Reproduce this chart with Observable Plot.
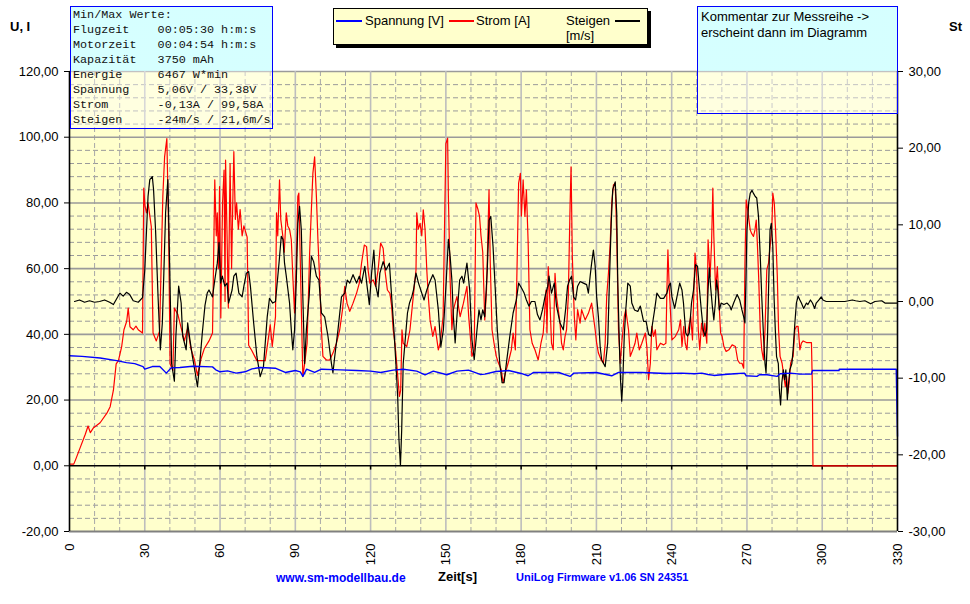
<!DOCTYPE html>
<html><head><meta charset="utf-8">
<script src="https://cdn.jsdelivr.net/npm/d3@7"></script>
<script src="https://cdn.jsdelivr.net/npm/@observablehq/plot@0.6"></script>
<style>
body{margin:0;background:#fff;font-family:"Liberation Sans",Arial,sans-serif;}
#wrap{position:relative;width:970px;height:604px;overflow:hidden;}
#chart{position:absolute;left:0;top:0;}
.abs{position:absolute;white-space:pre;}
#info{left:70px;top:6px;width:203px;height:123px;box-sizing:border-box;border:1px solid #0000ff;background:linear-gradient(to bottom, rgba(200,255,255,0.75) 0px, rgba(200,255,255,0.75) 64px, rgba(255,255,255,0.4) 64px);padding:1px 0 0 2px;font-family:"Liberation Mono","Courier New",monospace;font-size:11.75px;line-height:15px;color:#111;}
#comment{left:697px;top:6px;width:201px;height:108px;box-sizing:border-box;border:1px solid #0000ff;background:linear-gradient(to bottom, rgba(200,255,255,0.75) 0px, rgba(200,255,255,0.75) 64px, rgba(255,255,255,0.4) 64px);padding:1.5px 0 0 3px;font-size:13px;line-height:16px;color:#000;}
#legend{left:333px;top:8px;width:315px;height:37px;box-sizing:border-box;border:1px solid #000;background:#ffffcc;box-shadow:3px 3px 0 #000;font-size:13px;line-height:13px;}
#legend .t{position:absolute;white-space:pre;}
#legend .l{position:absolute;height:1.5px;}
</style></head><body>
<div id="wrap">
<div id="chart"></div>
<div id="info" class="abs"></div>
<div id="legend" class="abs">
  <div class="l" style="left:2px;top:11px;width:26px;background:#0000ff"></div>
  <div class="t" style="left:31px;top:5px">Spannung [V]</div>
  <div class="l" style="left:115px;top:11px;width:25px;background:#ff0000"></div>
  <div class="t" style="left:142px;top:5px">Strom [A]</div>
  <div class="t" style="left:232px;top:5px">Steigen</div>
  <div class="l" style="left:281px;top:11px;width:25px;background:#000"></div>
  <div class="t" style="left:232px;top:20px">[m/s]</div>
</div>
<div id="comment" class="abs">Kommentar zur Messreihe -&gt;
erscheint dann im Diagramm</div>
<div class="abs" style="left:10px;top:20px;font-size:13px;line-height:13px;font-weight:bold;">U, I</div>
<div class="abs" style="left:949px;top:20px;font-size:13px;line-height:13px;font-weight:bold;">St</div>
<div class="abs" style="left:276px;top:572px;font-size:12px;line-height:12px;font-weight:bold;color:#0000ff;">www.sm-modellbau.de</div>
<div class="abs" style="left:438px;top:570px;font-size:13px;line-height:13px;font-weight:bold;color:#000;">Zeit[s]</div>
<div class="abs" style="left:516px;top:572px;font-size:11px;line-height:11px;font-weight:bold;color:#0000ff;">UniLog Firmware v1.06 SN 24351</div>
</div>
<script>
// ---- data ----
const infoLines = [
  "Min/Max Werte:",
  "Flugzeit    00:05:30 h:m:s",
  "Motorzeit   00:04:54 h:m:s",
  "Kapazität   3750 mAh",
  "Energie     6467 W*min",
  "Spannung    5,06V / 33,38V",
  "Strom       -0,13A / 99,58A",
  "Steigen     -24m/s / 21,6m/s"
];
const xTicks = [0,30,60,90,120,150,180,210,240,270,300,330];
const yTicksLeft = [-20,0,20,40,60,80,100,120];
const yTicksRight = [-30,-20,-10,0,10,20,30];

// Spannung [V] : [t (s), V]
const spannung = [[0,33.5],[5,33.3],[12.2,32.8],[18.8,32.0],[22.7,31.4],[26,31.1],[29.3,30.2],[30,29.4],[33,30.2],[36,30.2],[38.6,28.2],[40.5,29.8],[44,29.9],[49.1,30.3],[57,30.1],[58.3,29.2],[60,28.6],[63,28.9],[66.4,28.2],[70,28.6],[72.7,29.5],[76,29.9],[82,29.7],[86,28.4],[90,29.0],[92,28.6],[93,27.2],[94.5,29.4],[97.7,28.4],[100.4,29.4],[108,29.2],[114.5,29.0],[120,28.8],[124,28.4],[129,29.1],[133,29.4],[138.4,28.8],[141.7,27.7],[145,28.8],[150.4,27.7],[154.4,28.8],[159,29.1],[163.7,27.8],[165.5,27.9],[170,28.7],[175,29.0],[180,28.1],[182.8,27.4],[185,28.4],[195,28.4],[199.5,27.2],[201,28.2],[210,28.4],[216.1,27.4],[218.8,28.4],[228,28.4],[238,28.1],[244,28.2],[249,28.0],[252,28.2],[254.5,27.8],[256.8,27.5],[261,27.8],[265,28.0],[269,28.2],[269.7,27.4],[274,27.2],[275,27.7],[278,27.7],[282,27.2],[283.2,28.0],[287.4,28.2],[291,27.9],[295.7,27.9],[296.1,29.0],[306.7,29.0],[306.8,29.4],[329.5,29.4],[330,9]];

// Strom [A] : [t (s), A]
const strom = [[0,0.5],[1.7,0.5],[2.4,1.8],[4.3,5.6],[6.3,9.6],[7.4,12.1],[8.3,10.1],[9.6,11.6],[12.2,13.1],[14.9,16],[16.2,18],[17.5,23],[18.6,31],[19.5,32],[20.8,36.3],[21.7,41.4],[22.8,44],[23.4,48],[24.1,42.3],[25.4,41.4],[26.5,42.5],[27.4,41.4],[29.1,40.4],[29.6,84.5],[30.1,79],[30.7,77],[31.3,80],[32.6,72.8],[33.3,40.4],[34.6,38],[35.9,41],[37.2,82],[37.9,94],[38.8,99.6],[39.5,72],[40.1,31],[41.2,29],[41.8,48],[43.2,46],[44.5,42],[45.8,38],[47.1,42],[48.4,35.6],[49.7,32.5],[51,27.5],[52.4,32.5],[53.7,35.6],[55.6,38],[57,40.4],[57.9,87],[58.5,70],[58.9,77],[59.4,60],[59.8,85],[60.3,45],[61,80],[61.6,90],[62,50],[62.2,93],[62.8,70],[63.3,48],[64,92],[64.6,60],[65.2,85],[65.5,95.6],[66.1,75],[66.6,80],[67.3,72],[68,78],[68.8,70],[69.5,73],[70.8,69.6],[71.4,36.7],[72.7,35],[74.7,32],[76.5,32],[78,32],[79.3,39],[80,43],[80.8,36.3],[82.1,45.4],[82.5,77],[83,70],[83.7,87],[84.2,75],[85,70],[85.6,65],[86.4,77],[87,73],[87.7,72],[88.4,68.8],[89,57.6],[89.7,46.5],[90.4,62],[91,82],[91.4,83],[92,61.7],[92.7,37.3],[93,27.2],[93.7,31],[94.7,37.3],[95.7,64.7],[96.4,77.9],[97,89],[97.7,94],[98.4,82],[99,69],[99.7,56.6],[100.4,41.4],[101,33.3],[102.4,32.2],[103.7,32.2],[105,34.3],[106.4,37.3],[107.7,41.4],[108.8,47.5],[109.7,54.6],[110.6,49.5],[111.7,47],[113,49.5],[114.4,52.5],[115.5,55.6],[116.4,61.7],[117.5,67.2],[118.4,66.7],[119,59.6],[119.7,55.6],[121,56.6],[122,54.6],[123,59.6],[124,67.8],[125,66.2],[125.7,59.6],[126.7,53.5],[127.7,52.5],[128.4,48.5],[129,41.4],[129.7,37.3],[130.4,31.2],[131.5,21.1],[132,23],[132.5,41.4],[133,37.3],[134.4,36.3],[135.7,41.4],[137,51.5],[138.1,59.6],[138.4,77],[139,72],[139.7,73.8],[140.4,70],[141,77.9],[141.7,72],[142.4,59.6],[143,51.5],[143.7,44.4],[144.8,39.4],[145.7,42.4],[147,35.3],[147.7,37.3],[148.9,45.4],[150,98],[150.7,99.7],[151,82],[151.7,56.6],[152.4,41.4],[153,47.5],[154.4,51.5],[155.7,45.4],[157,49.5],[158.4,54.6],[159.1,45.4],[160.4,33.3],[161.3,35.3],[162,80],[162.8,78],[163.4,76],[164,70],[164.7,65],[165.5,44.4],[166.2,53.5],[166.8,71.7],[167.2,84],[167.7,61.7],[168.4,41.4],[169.2,37.3],[170.1,33.3],[171,31.2],[172.1,29.2],[172.8,25.2],[173.7,28.2],[174.8,31.2],[176.1,35.3],[176.8,40.4],[177.7,35.3],[178.4,61.7],[179,86],[179.7,89],[180.1,76],[180.8,87],[181.5,75.9],[182.1,84],[182.8,67.8],[183.5,41.4],[184.4,37.3],[185.5,35.3],[186.8,32.2],[187.9,37.3],[188.8,40.4],[189.5,48.5],[189.9,53.5],[190.3,40.4],[190.8,60.6],[191.5,49.5],[192.1,37.3],[192.8,35.3],[193.5,58.6],[194.1,51.5],[194.8,47.5],[195.5,43.4],[196.1,37.3],[196.8,35.3],[197.5,39.4],[198.1,41.4],[198.8,51.5],[199.5,79],[199.9,91],[200.4,63.7],[201.2,45.4],[201.8,38.3],[202.5,47.5],[203.5,43.4],[204.1,47.5],[205.5,44.4],[206.8,46.4],[208.1,49.5],[208.8,45.4],[209.5,41.4],[210.1,37.3],[210.8,34.3],[211.9,32.2],[212.8,31.2],[213.5,37.3],[214.1,51.5],[214.8,58.6],[215.5,67.8],[216.1,79.9],[216.8,85.5],[217.5,86],[218.1,70],[218.8,41.4],[219.5,31.2],[220.1,37.3],[221.1,45.4],[221.7,47.5],[222.8,41.4],[223.5,33.3],[224.5,35.3],[225.4,37.3],[226.1,40.4],[227.1,35.3],[228.1,37.3],[229.5,40.4],[230.1,36.3],[230.8,26.2],[231.5,31.2],[232.1,42.4],[232.8,39.4],[233.5,41.4],[234.1,35.3],[235.5,37.3],[236.8,36.8],[237.7,37.3],[238.1,53.5],[238.5,65.7],[239,54.6],[240.1,38.3],[241.5,39.4],[242.8,41.4],[243.5,44.4],[244.1,36.3],[244.8,42.4],[245.4,37.3],[246.1,35.3],[246.6,41.4],[247.6,45.4],[248.3,38.3],[248.9,54.6],[249.3,64.7],[249.9,59.6],[250.6,41.4],[251.2,35.3],[251.9,43.4],[252.7,39.4],[253.2,43.4],[254,37.3],[254.5,68.8],[255.3,57.6],[255.9,67.8],[256.4,84.5],[256.8,69.8],[257.5,53.5],[258.2,60.6],[258.8,50.5],[259.5,40.4],[260.1,39.4],[260.8,36.3],[261.7,34.8],[262.8,35.3],[264.1,36.8],[265.4,36.3],[266.3,32.2],[267.1,31.2],[268,31.2],[268.7,29.7],[269.2,61.7],[269.7,80.9],[270.3,77.9],[270.8,74.8],[271.3,71.8],[271.8,70.8],[272.6,69.8],[273.2,71.8],[273.7,74.8],[274.2,66.7],[274.7,56.6],[275.3,41.4],[275.9,35.3],[276.6,32.2],[277.2,41.4],[277.9,59.6],[278.6,61.7],[279.2,66.7],[279.9,71.8],[280.3,83],[280.9,79.9],[281.4,71.8],[282.1,57.6],[282.6,41.4],[283.2,33.3],[284,31.2],[284.7,27.2],[285.3,24.1],[285.8,27.2],[286.3,22.1],[286.8,25.2],[287.4,31.2],[288.4,33.3],[289.1,41.4],[289.7,42.4],[290.4,42.4],[291.1,35.3],[291.7,37.3],[292.4,38],[293.7,37.5],[295.7,37.5],[296.1,23.1],[296.3,0],[330,0]];

// Steigen [m/s] : [t (s), m/s]  (right axis)
const steigen = [[2,0],[4,0.2],[6,-0.1],[8,0.1],[10,-0.1],[12,0],[14,0.2],[16,-0.1],[17.5,-0.4],[20.1,1.1],[21.4,0.7],[22.7,1.2],[24,0.9],[25.4,0.1],[27.4,-0.1],[29.1,0.5],[30,4.1],[30.7,9.3],[31.3,13.7],[32,15.9],[33,16.3],[33.5,14.6],[34.3,9.3],[35.3,0.6],[36.2,-6.3],[37,-2.8],[37.6,3.7],[38.3,11.6],[39.2,15.9],[39.9,5],[40.7,-8.1],[41.8,-10.4],[42.4,-4.5],[43.5,2],[44.5,-0.2],[45.1,-4.5],[46.5,-6.3],[47.1,-2.8],[48,-5],[49,-7.2],[49.9,-8.9],[51,-11.1],[51.9,-8.1],[52.9,-4.2],[54,-0.5],[54.9,1.1],[55.6,1.5],[57,0.6],[57.9,2.8],[58.9,5],[59.6,7.7],[60.2,2.4],[60.9,3.3],[61.9,2],[62.8,2.4],[63.4,-0.2],[64.8,1.5],[65.5,3.3],[66.4,3.7],[67.5,1.1],[68.8,0.6],[69.5,2],[70.5,3.7],[71.4,3.9],[72.1,2],[73.4,-2.8],[74.7,-7.2],[76,-9.8],[77.3,-8.5],[78.8,-2],[79.7,0.4],[81,-0.2],[82.1,0],[83.5,5],[84.4,8.5],[85.1,8.1],[85.7,5],[86.4,3.3],[87.7,-0.2],[88.4,-3.7],[89,-6.3],[89.7,-3.7],[90.4,2.8],[91,10.2],[91.7,12.4],[92.4,9.3],[93,0.6],[93.7,-8.1],[94.4,-3.7],[95.5,0.6],[96.4,5.9],[97.3,5.2],[98.4,3.3],[99.4,2.8],[100.4,-1.5],[101.7,-2],[103,-4.5],[104.4,-8.1],[105,-9.3],[105.7,-7.2],[107,-3.7],[108.4,0.6],[109.7,1.1],[110.7,2.8],[111.7,2.4],[113,3.5],[114.4,2.4],[115.5,3.3],[116.4,2.4],[117.7,4.6],[118.6,2],[119.5,-0.4],[120.4,3.7],[121.3,6.7],[122.1,2],[123,0.6],[123.7,3.7],[125,5.2],[126.1,4.1],[127.5,5],[128.4,0.6],[129.3,-3.7],[130,-7.6],[130.8,-12.4],[131.3,-18],[131.9,-21.4],[132.4,-16.7],[133,-8.1],[133.7,-5.4],[134.7,-1.5],[135.5,-0.2],[136.4,0.6],[137.1,1.5],[138.1,3.7],[139.1,2.4],[140.4,1.1],[141.3,0.2],[142.4,1.5],[143.4,2.4],[144.8,3.5],[145.7,2.8],[147,-1.1],[148,-5.9],[149,-3.7],[150.1,2.4],[151,8.1],[151.7,5.9],[152.4,2.8],[153,-2],[153.7,-5.4],[154.4,-2],[155.5,2.8],[156.4,3.3],[157.1,2.4],[158.4,5],[159.5,1.5],[160.4,-5],[161.3,-7.6],[162.4,-3.7],[163.2,-1.1],[164,-2.4],[164.7,-1.1],[165.5,-2],[166.5,4.1],[167.2,10.6],[167.9,11.1],[168.8,7.2],[169.7,1.5],[170.5,-3.7],[171.5,-8.1],[172.4,-10.6],[173.2,-10.6],[174.1,-8.1],[175.5,-4.5],[176.8,-1.5],[178.1,0.2],[179,2.4],[180.1,1.8],[181.2,1.1],[182.1,0.2],[183.1,-0.6],[184.1,0],[185.5,0],[186.5,-1.7],[187.5,-2.4],[188.5,-1.1],[189.5,0.6],[190.6,2],[191.1,3.3],[192.1,1.1],[193.2,2.4],[194.1,-0.6],[195.5,-2.8],[196.8,-3.7],[197.7,-1.1],[198.5,2],[199.3,2.8],[200.1,3.3],[200.9,0.6],[201.7,0.2],[202.5,2],[203.5,2.6],[204.8,2.4],[206.1,2.2],[206.8,1.1],[207.5,3.3],[208.1,5],[208.8,6.7],[209.5,4.6],[210.1,0.6],[210.8,-2],[211.5,-5.9],[212.1,-7.6],[213.5,-8.5],[214.5,-5.4],[215.2,2.8],[215.9,10.2],[216.5,14.6],[217.5,15.6],[218.1,11.5],[218.5,2.8],[219.1,-5],[219.6,-10.2],[220.1,-13],[220.5,-10.6],[221.1,-4.5],[221.7,-1.1],[222.5,2.4],[223.5,2],[224.1,-0.2],[225.2,-1.1],[226.5,-1.3],[227.5,-0.6],[228.8,-2.6],[229.8,-2.6],[230.8,-4.3],[231.7,-4.5],[232.4,-2.8],[233.2,-1.1],[234.1,1.1],[235.5,0.4],[236.8,0.4],[238.1,1.1],[238.8,2],[239.5,2.4],[240.1,0.6],[241.2,-0.9],[242.1,0.6],[243.2,2.4],[244.1,1.5],[244.7,-0.2],[245.6,-4.1],[246.3,-4.5],[247,-4.1],[247.9,-0.2],[248.7,1.5],[249.5,4.8],[250.3,4.6],[251.1,1.5],[251.8,-1.1],[252.6,-3.7],[253.3,-4.5],[253.9,-3.7],[254.5,1.5],[255,4.4],[255.5,2],[256.2,-0.6],[256.8,-2.4],[257.4,-0.2],[257.9,2.8],[258.4,1.5],[259,-1.1],[259.7,-0.2],[260.8,-0.4],[262.1,-0.2],[263.2,-0.6],[263.7,-1.1],[264.7,-0.2],[266.1,0.9],[267.1,0.2],[268,-1.1],[268.7,-2],[269.2,-2.8],[269.6,2.8],[270,9.3],[270.7,12.9],[271.3,14.1],[272,14.5],[272.6,14.1],[273.3,13.7],[273.9,13.5],[274.6,11.1],[275.3,5.9],[275.9,0.6],[276.6,-4.5],[277.2,-8.1],[277.6,-9.3],[278.2,-4.5],[278.7,2.8],[279.2,9.3],[279.7,10.2],[280.3,7.2],[280.8,0.6],[281.3,-3.7],[281.8,-7.2],[282.5,-8.1],[282.9,-11.5],[283.4,-13.5],[283.9,-10.6],[284.5,-8.9],[285,-10.2],[285.5,-8.9],[286.1,-12.8],[286.6,-10.6],[287.1,-8.9],[287.9,-8.1],[288.4,-6.3],[289.1,-2.8],[289.7,-0.2],[290.4,0.7],[291.1,0.2],[291.7,-0.2],[292.6,-0.9],[293.7,-0.2],[294.3,-0.4],[295.3,0.2],[296.1,-0.2],[297,-0.9],[297.6,-0.2],[298.7,0.2],[299.6,0.6],[300.3,0.2],[301.6,0],[305,0],[309,0],[312,0.2],[313.3,0.1],[315,0],[317,0.1],[319.3,-0.3],[321,0],[323.7,0.1],[325,-0.2],[330,-0.2]];

// ---- helpers ----
const fmt = v => v.toFixed(2).replace(".", ",");
const toLeft = r => 50 + r * 140 / 60;   // right axis (m/s) onto left scale (U, I)
const minorY = d3.range(-16, 120, 4).filter(v => v % 20 !== 0);
const minorX = d3.range(10, 330, 10).filter(v => v % 30 !== 0);
const majorY = yTicksLeft.filter(v => v !== -20 && v !== 0);
const majorX = xTicks.filter(v => v !== 0 && v !== 330);

document.getElementById("info").textContent = infoLines.join("\n");

const chart = Plot.plot({
  width: 970, height: 604,
  marginLeft: 69, marginRight: 73, marginTop: 71, marginBottom: 73,
  x: {domain: [0, 330]},
  y: {domain: [-20, 120]},
  style: {fontFamily: "'Liberation Sans', Arial, sans-serif", fontSize: "13px", color: "#000", background: "#fff", overflow: "visible"},
  marks: [
    Plot.frame({fill: "#ffffcc", stroke: null}),
    Plot.ruleY(minorY, {stroke: "#9a9a9a", strokeWidth: 1, strokeDasharray: "5,3"}),
    Plot.ruleX(minorX, {stroke: "#a8a8a8", strokeWidth: 1, strokeDasharray: "5,3"}),
    Plot.ruleY(majorY, {stroke: "#9a9a9a", strokeWidth: 1.6}),
    Plot.ruleX(majorX, {stroke: "#bdbdbd", strokeWidth: 1.6}),
    Plot.ruleY([-20], {stroke: "#808080", strokeWidth: 2}),
    Plot.ruleY([0], {stroke: "#000", strokeWidth: 1.6}),
    Plot.ruleX(xTicks.filter(v => v !== 0 && v !== 330), {y1: 0, y2: -1.3, stroke: "#000", strokeWidth: 1.5}),
    Plot.line(strom, {x: d => d[0], y: d => d[1], stroke: "#ff0000", strokeWidth: 1.2}),
    Plot.line(steigen, {x: d => d[0], y: d => toLeft(d[1]), stroke: "#000", strokeWidth: 1.2}),
    Plot.line(spannung, {x: d => d[0], y: d => d[1], stroke: "#0000ff", strokeWidth: 1.4}),
    Plot.ruleX([0], {stroke: "#000", strokeWidth: 1.6}),
    Plot.ruleX([330], {stroke: "#000", strokeWidth: 1.6}),
    Plot.axisY(yTicksLeft, {anchor: "left", tickSize: 5, tickPadding: 6, tickFormat: fmt, label: null, fontSize: 13}),
    Plot.axisY(yTicksRight.map(toLeft), {anchor: "right", tickSize: 5, tickPadding: 6, tickFormat: (d, i) => fmt(yTicksRight[i]), label: null, fontSize: 13}),
    Plot.axisX(xTicks, {anchor: "bottom", tickSize: 0, tickPadding: 12, tickRotate: -90, label: null, fontSize: 13})
  ]
});
document.getElementById("chart").appendChild(chart);
</script>
</body></html>
